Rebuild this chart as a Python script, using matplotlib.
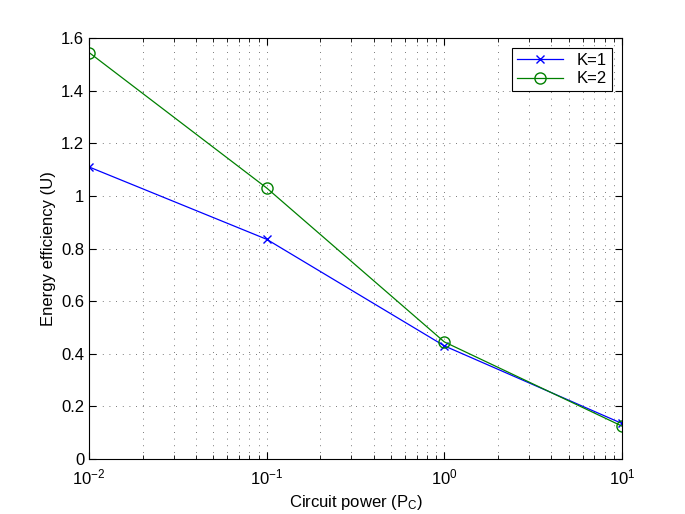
import matplotlib
matplotlib.use("Agg")
import matplotlib.pyplot as plt
from matplotlib.ticker import LogLocator, NullFormatter

pc = [0.01, 0.1, 1, 10]
ee_k1 = [1.11, 0.835, 0.43, 0.135]
ee_k2 = [1.545, 1.03, 0.445, 0.125]
labels = ["K=1", "K=2"]

plt.rcParams['font.family'] = ['Liberation Sans', 'DejaVu Sans']
plt.rcParams['mathtext.fontset'] = 'custom'
plt.rcParams['mathtext.rm'] = 'Liberation Sans'
plt.rcParams['mathtext.it'] = 'Liberation Sans'

fig = plt.figure(figsize=(6.85, 5.14), dpi=100)
ax = fig.add_axes([0.13, 0.107, 0.778, 0.819])
ax.plot(pc, ee_k1, color=(0, 0, 1), marker='x', markersize=6, lw=0.9, label=labels[0])
ax.plot(pc, ee_k2, color=(0, 0.5, 0), marker='o', markersize=8, markerfacecolor='none', lw=0.9, label=labels[1])
ax.set_xscale('log')
ax.set_xlim(0.01, 10)
ax.set_ylim(0, 1.6)
ax.set_yticks([0, 0.2, 0.4, 0.6, 0.8, 1.0, 1.2, 1.4, 1.6])
ax.set_yticklabels(['0', '0.2', '0.4', '0.6', '0.8', '1', '1.2', '1.4', '1.6'])
ax.xaxis.set_minor_locator(LogLocator(base=10, subs=range(2, 10)))
ax.xaxis.set_minor_formatter(NullFormatter())
ax.grid(True, which='major', linestyle=(0, (1, 7)), color='0.3', lw=0.6)
ax.grid(True, which='minor', axis='x', linestyle=(0, (1, 7)), color='0.3', lw=0.6)
ax.tick_params(which='both', direction='in', top=True, right=True, labelsize=12)
ax.tick_params(which='major', length=5)
ax.tick_params(which='minor', length=3)
ax.tick_params(axis='x', pad=6)
for s in ax.spines.values():
    s.set_linewidth(0.8)
ax.set_xlabel('Circuit power (P$_C$)', fontsize=12)
ax.set_ylabel('Energy efficiency (U)', fontsize=12)
leg = ax.legend(loc='upper right', fontsize=12, fancybox=False, edgecolor='black',
                framealpha=1, borderaxespad=0.6, handlelength=2.8, borderpad=0.3, labelspacing=0.2)
leg.get_frame().set_linewidth(0.8)
fig.savefig('out.png', dpi=100)
